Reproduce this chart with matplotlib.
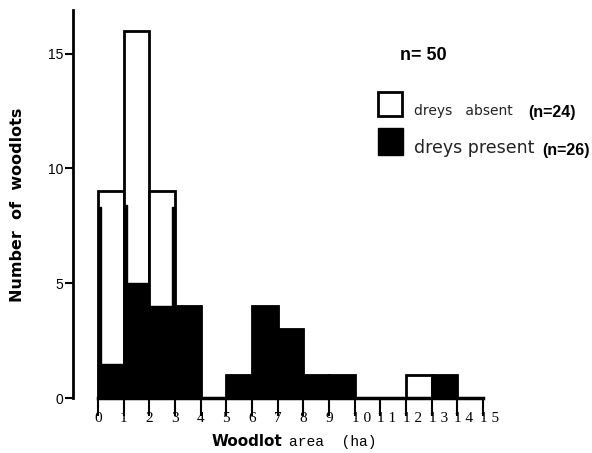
import numpy as np
import matplotlib.pyplot as plt
from matplotlib.patches import Rectangle

# woodlot area bins (ha), lower edges
bin_left = list(range(15))
total_counts = [9, 16, 9, 4, 0, 1, 4, 3, 1, 1, 0, 0, 1, 1, 0]
present_counts = [1.5, 5, 4, 4, 0, 1, 4, 3, 1, 1, 0, 0, 0, 1, 0]
# heavy ink strips on some bar edges of the scanned original
strip_x = [0.0, 1.0, 2.88]
strip_bottom = [0, 5, 0]
strip_top = [8.3, 8.4, 8.3]

xticks = list(range(16))
yticks = [0, 5, 10, 15]

SANS = ['Liberation Sans Narrow', 'Liberation Sans', 'DejaVu Sans']

fig = plt.figure(figsize=(5.92, 4.53), dpi=100)
ax = fig.add_axes([73 / 592, 1 - 398 / 453, (496 - 73) / 592, 388 / 453])
ax.set_xlim(-0.97, 15.5)
ax.set_ylim(0, 16.9)

ax.bar(bin_left, total_counts, width=1.0, align='edge', color='white',
       edgecolor='black', linewidth=2.0, zorder=2)
ax.bar(bin_left, present_counts, width=1.0, align='edge', color='black',
       edgecolor='black', linewidth=1.0, zorder=3)
for x, b, t in zip(strip_x, strip_bottom, strip_top):
    ax.add_patch(Rectangle((x, b), 0.12, t - b, color='black', zorder=4))

for s in ['top', 'right']:
    ax.spines[s].set_visible(False)
ax.spines['left'].set_linewidth(2.0)
ax.spines['bottom'].set_linewidth(2.5)
ax.spines['bottom'].set_bounds(0, 15)

ax.set_yticks(yticks)
ax.set_yticklabels([str(v) for v in yticks], family=SANS, fontsize=10)
ax.tick_params(axis='y', direction='out', length=6, width=1.5, pad=1)

ax.set_xticks(xticks)
ax.set_xticklabels([])
ax.tick_params(axis='x', direction='out', length=13, width=1.5)
for v in xticks:
    if v < 10:
        ax.text(v, -0.6, str(v), ha='center', va='top', family='Liberation Serif', fontsize=11)
    else:
        ax.text(v - 0.12, -0.6, ' '.join(str(v)), ha='left', va='top',
                family='Liberation Serif', fontsize=11)

fig.text(18 / 592, 1 - 205 / 453, 'Number  of  woodlots', rotation=90, ha='center', va='center',
         family='DejaVu Sans', fontsize=11.5, fontweight='bold')
fig.text(282 / 592, 1 - 441 / 453, 'Woodlot', ha='right', va='center', family='DejaVu Sans',
         fontsize=11, fontweight='bold')
fig.text(289 / 592, 1 - 442 / 453, 'area  (ha)', ha='left', va='center', family='Liberation Mono',
         fontsize=10.5)

# legend drawn by hand as in the original
fig.text(400 / 592, 1 - 56 / 453, 'n= 50', ha='left', va='center', family=SANS,
         fontsize=13, fontweight='bold')
fig.patches.append(Rectangle((378 / 592, 1 - 116 / 453), 24 / 592, 24 / 453, transform=fig.transFigure,
                             facecolor='white', edgecolor='black', linewidth=2))
fig.patches.append(Rectangle((378 / 592, 1 - 155 / 453), 25 / 592, 27 / 453, transform=fig.transFigure,
                             facecolor='black', edgecolor='black', linewidth=1))
fig.text(414 / 592, 1 - 111 / 453, 'dreys   absent', ha='left', va='center', family='DejaVu Sans',
         fontsize=10, color='#222222')
fig.text(528 / 592, 1 - 112 / 453, '(n=24)', ha='left', va='center', family=SANS,
         fontsize=11.5, fontweight='bold')
fig.text(414 / 592, 1 - 148 / 453, 'dreys present', ha='left', va='center', family='DejaVu Sans',
         fontsize=12.5, color='#222222')
fig.text(542 / 592, 1 - 151 / 453, '(n=26)', ha='left', va='center', family=SANS,
         fontsize=11.5, fontweight='bold')

fig.savefig('out.png', dpi=100)
